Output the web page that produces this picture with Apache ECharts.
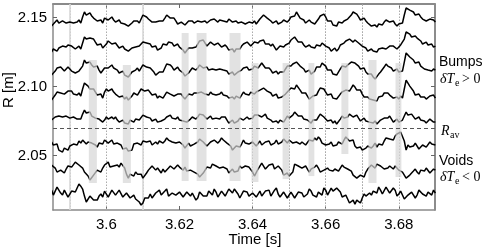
<!DOCTYPE html>
<html>
<head>
<meta charset="utf-8">
<script src="https://cdn.jsdelivr.net/npm/echarts@6/dist/echarts.min.js"></script>
<style>html,body{margin:0;padding:0;background:#fff}#c{width:482px;height:249px}</style>
</head>
<body>
<div id="c"></div>
<script>
// sample times [s] (whole-ms samples and half-ms samples)
const time = [3.585,3.586,3.587,3.588,3.589,3.590,3.591,3.592,3.593,3.594,3.595,3.596,3.597,3.598,3.599,
3.600,3.601,3.602,3.603,3.604,3.605,3.606,3.607,3.608,3.609,3.610,3.611,3.612,3.613,3.614,3.615,3.616,3.617,3.618,3.619,
3.620,3.621,3.622,3.623,3.624,3.625,3.626,3.627,3.628,3.629,3.630,3.631,3.632,3.633,3.634,3.635,3.636,3.637,3.638,3.639,
3.640,3.641,3.642,3.643,3.644,3.645,3.646,3.647,3.648,3.649,3.650,3.651,3.652,3.653,3.654,3.655,3.656,3.657,3.658,3.659,
3.660,3.661,3.662,3.663,3.664,3.665,3.666,3.667,3.668,3.669,3.670,3.671,3.672,3.673,3.674,3.675,3.676,3.677,3.678,3.679,
3.680,3.681,3.682,3.683,3.684,3.685,3.686,3.687,3.688,3.689,3.690];
const timeMid = [3.5855,3.5865,3.5875,3.5885,3.5895,3.5905,3.5915,3.5925,3.5935,3.5945,3.5955,3.5965,3.5975,3.5985,3.5995,
3.6005,3.6015,3.6025,3.6035,3.6045,3.6055,3.6065,3.6075,3.6085,3.6095,3.6105,3.6115,3.6125,3.6135,3.6145,3.6155,3.6165,3.6175,3.6185,3.6195,
3.6205,3.6215,3.6225,3.6235,3.6245,3.6255,3.6265,3.6275,3.6285,3.6295,3.6305,3.6315,3.6325,3.6335,3.6345,3.6355,3.6365,3.6375,3.6385,3.6395,
3.6405,3.6415,3.6425,3.6435,3.6445,3.6455,3.6465,3.6475,3.6485,3.6495,3.6505,3.6515,3.6525,3.6535,3.6545,3.6555,3.6565,3.6575,3.6585,3.6595,
3.6605,3.6615,3.6625,3.6635,3.6645,3.6655,3.6665,3.6675,3.6685,3.6695,3.6705,3.6715,3.6725,3.6735,3.6745,3.6755,3.6765,3.6775,3.6785,3.6795,
3.6805,3.6815,3.6825,3.6835,3.6845,3.6855,3.6865,3.6875,3.6885,3.6895];

// radial positions of the 8 traces [m], whole-ms samples
const r1 = [2.1438,2.1467,2.1460,2.1475,2.1460,2.1467,2.1460,2.1467,2.1460,2.1540,2.1525,2.1511,2.1496,2.1482,2.1460,2.1504,2.1489,2.1482,2.1475,2.1460,2.1453,2.1438,2.1460,2.1467,2.1460,2.1518,2.1504,2.1489,2.1467,2.1453,2.1475,2.1496,2.1518,2.1489,2.1475,2.1460,
2.1460,2.1453,2.1467,2.1460,2.1475,2.1467,2.1475,2.1467,2.1482,2.1475,2.1482,2.1475,2.1467,2.1482,2.1475,2.1460,2.1467,2.1453,2.1467,2.1460,2.1453,2.1489,2.1518,2.1496,2.1475,2.1467,2.1453,2.1467,2.1475,2.1482,2.1511,2.1540,2.1496,2.1482,2.1467,
2.1467,2.1453,2.1489,2.1518,2.1504,2.1475,2.1446,2.1438,2.1467,2.1475,2.1489,2.1518,2.1533,2.1504,2.1489,2.1475,2.1460,2.1446,2.1431,2.1446,2.1467,2.1475,2.1467,2.1453,2.1453,2.1460,2.1569,2.1554,2.1540,2.1525,2.1504,2.1489,2.1482,2.1475,2.1467];
const r2 = [2.1250,2.1264,2.1279,2.1293,2.1286,2.1293,2.1279,2.1286,2.1272,2.1359,2.1351,2.1337,2.1322,2.1301,2.1279,2.1308,2.1322,2.1315,2.1301,2.1286,2.1272,2.1257,2.1279,2.1286,2.1293,2.1322,2.1315,2.1308,2.1286,2.1264,2.1279,2.1301,2.1322,2.1315,2.1301,2.1286,
2.1264,2.1250,2.1279,2.1293,2.1308,2.1330,2.1315,2.1301,2.1308,2.1301,2.1308,2.1293,2.1286,2.1264,2.1250,2.1272,2.1293,2.1301,2.1308,2.1301,2.1315,2.1330,2.1337,2.1308,2.1293,2.1286,2.1272,2.1286,2.1301,2.1315,2.1337,2.1351,2.1322,2.1301,2.1286,
2.1286,2.1279,2.1301,2.1315,2.1293,2.1279,2.1264,2.1257,2.1301,2.1315,2.1322,2.1337,2.1337,2.1315,2.1293,2.1279,2.1264,2.1257,2.1250,2.1264,2.1279,2.1286,2.1279,2.1286,2.1279,2.1293,2.1395,2.1380,2.1366,2.1351,2.1330,2.1315,2.1301,2.1308,2.1293];
const r3 = [2.1083,2.1112,2.1127,2.1134,2.1119,2.1127,2.1112,2.1105,2.1098,2.1192,2.1170,2.1156,2.1141,2.1119,2.1098,2.1148,2.1141,2.1134,2.1119,2.1105,2.1083,2.1069,2.1105,2.1119,2.1112,2.1156,2.1141,2.1134,2.1105,2.1083,2.1105,2.1134,2.1156,2.1141,2.1127,2.1119,
2.1098,2.1076,2.1105,2.1127,2.1134,2.1148,2.1134,2.1119,2.1127,2.1119,2.1127,2.1119,2.1112,2.1098,2.1083,2.1105,2.1119,2.1127,2.1119,2.1127,2.1134,2.1148,2.1156,2.1134,2.1119,2.1105,2.1090,2.1105,2.1127,2.1141,2.1163,2.1177,2.1148,2.1127,2.1112,
2.1090,2.1112,2.1141,2.1170,2.1148,2.1119,2.1090,2.1083,2.1127,2.1141,2.1156,2.1177,2.1170,2.1148,2.1127,2.1105,2.1083,2.1069,2.1061,2.1105,2.1141,2.1148,2.1134,2.1119,2.1105,2.1112,2.1243,2.1214,2.1192,2.1170,2.1148,2.1127,2.1119,2.1112,2.1119];
const r4 = [2.0902,2.0938,2.0953,2.0960,2.0953,2.0960,2.0945,2.0938,2.0931,2.1025,2.1003,2.0982,2.0960,2.0938,2.0916,2.0982,2.0974,2.0960,2.0945,2.0931,2.0909,2.0902,2.0931,2.0945,2.0938,2.0989,2.0974,2.0960,2.0938,2.0916,2.0924,2.0938,2.0953,2.0945,2.0938,2.0931,
2.0924,2.0916,2.0938,2.0953,2.0953,2.0960,2.0945,2.0938,2.0945,2.0938,2.0945,2.0938,2.0931,2.0924,2.0909,2.0924,2.0938,2.0945,2.0938,2.0953,2.0960,2.0974,2.0989,2.0967,2.0953,2.0938,2.0916,2.0924,2.0945,2.0960,2.0982,2.1011,2.0974,2.0945,2.0931,
2.0909,2.0931,2.0967,2.0982,2.0960,2.0938,2.0916,2.0909,2.0945,2.0953,2.0967,2.0989,2.0996,2.0967,2.0945,2.0924,2.0909,2.0902,2.0895,2.0931,2.0953,2.0953,2.0938,2.0924,2.0909,2.0916,2.1047,2.1003,2.0967,2.0938,2.0924,2.0924,2.0916,2.0924,2.0916];
const r5 = [2.0757,2.0779,2.0786,2.0779,2.0786,2.0771,2.0779,2.0764,2.0764,2.0829,2.0808,2.0786,2.0771,2.0764,2.0742,2.0779,2.0771,2.0764,2.0757,2.0750,2.0735,2.0728,2.0750,2.0764,2.0757,2.0793,2.0779,2.0771,2.0757,2.0742,2.0750,2.0764,2.0779,2.0771,2.0764,2.0757,
2.0750,2.0742,2.0764,2.0771,2.0779,2.0786,2.0779,2.0771,2.0764,2.0771,2.0764,2.0771,2.0757,2.0742,2.0735,2.0750,2.0764,2.0771,2.0764,2.0771,2.0779,2.0786,2.0793,2.0771,2.0757,2.0750,2.0735,2.0750,2.0764,2.0771,2.0793,2.0808,2.0786,2.0764,2.0757,
2.0735,2.0757,2.0779,2.0793,2.0771,2.0757,2.0735,2.0728,2.0764,2.0771,2.0779,2.0793,2.0793,2.0771,2.0757,2.0750,2.0742,2.0735,2.0728,2.0757,2.0771,2.0771,2.0764,2.0750,2.0742,2.0757,2.0815,2.0800,2.0786,2.0771,2.0757,2.0750,2.0742,2.0750,2.0742];
const r6 = [2.0598,2.0583,2.0539,2.0525,2.0554,2.0569,2.0583,2.0576,2.0590,2.0612,2.0598,2.0590,2.0576,2.0590,2.0583,2.0605,2.0598,2.0583,2.0590,2.0576,2.0554,2.0532,2.0539,2.0576,2.0590,2.0605,2.0598,2.0605,2.0590,2.0583,2.0598,2.0605,2.0612,2.0598,2.0590,2.0598,
2.0576,2.0561,2.0569,2.0583,2.0598,2.0612,2.0590,2.0583,2.0590,2.0598,2.0605,2.0612,2.0590,2.0569,2.0554,2.0561,2.0583,2.0590,2.0583,2.0598,2.0569,2.0605,2.0583,2.0598,2.0576,2.0590,2.0583,2.0598,2.0605,2.0612,2.0590,2.0598,2.0583,2.0598,2.0590,
2.0598,2.0627,2.0634,2.0590,2.0576,2.0583,2.0569,2.0576,2.0590,2.0612,2.0634,2.0605,2.0569,2.0554,2.0539,2.0554,2.0561,2.0569,2.0561,2.0590,2.0605,2.0619,2.0627,2.0641,2.0656,2.0663,2.0539,2.0561,2.0569,2.0576,2.0561,2.0576,2.0569,2.0583,2.0576];
const r7 = [2.0431,2.0409,2.0380,2.0387,2.0402,2.0416,2.0424,2.0438,2.0445,2.0380,2.0351,2.0336,2.0358,2.0394,2.0409,2.0438,2.0416,2.0424,2.0431,2.0445,2.0409,2.0336,2.0351,2.0380,2.0365,2.0336,2.0373,2.0402,2.0416,2.0409,2.0373,2.0380,2.0409,2.0424,2.0416,2.0416,
2.0394,2.0387,2.0394,2.0380,2.0365,2.0358,2.0373,2.0424,2.0438,2.0424,2.0409,2.0416,2.0402,2.0387,2.0380,2.0387,2.0409,2.0424,2.0416,2.0380,2.0365,2.0416,2.0438,2.0409,2.0431,2.0402,2.0424,2.0394,2.0365,2.0351,2.0380,2.0445,2.0424,2.0409,2.0402,
2.0402,2.0416,2.0409,2.0387,2.0380,2.0394,2.0387,2.0402,2.0409,2.0416,2.0402,2.0387,2.0351,2.0336,2.0351,2.0380,2.0402,2.0424,2.0438,2.0424,2.0402,2.0409,2.0416,2.0424,2.0394,2.0380,2.0336,2.0358,2.0387,2.0380,2.0394,2.0387,2.0402,2.0387,2.0394];
const r8 = [2.0249,2.0221,2.0264,2.0213,2.0242,2.0206,2.0249,2.0264,2.0278,2.0206,2.0177,2.0192,2.0185,2.0206,2.0199,2.0228,2.0206,2.0235,2.0213,2.0242,2.0206,2.0221,2.0199,2.0185,2.0163,2.0156,2.0185,2.0221,2.0199,2.0228,2.0213,2.0242,2.0206,2.0228,2.0213,2.0235,
2.0199,2.0235,2.0206,2.0221,2.0192,2.0228,2.0206,2.0242,2.0213,2.0235,2.0199,2.0228,2.0213,2.0249,2.0257,2.0221,2.0199,2.0235,2.0206,2.0228,2.0199,2.0242,2.0213,2.0235,2.0206,2.0249,2.0221,2.0199,2.0228,2.0206,2.0235,2.0192,2.0228,2.0199,2.0221,
2.0242,2.0206,2.0235,2.0213,2.0249,2.0221,2.0242,2.0264,2.0235,2.0213,2.0185,2.0163,2.0148,2.0177,2.0192,2.0206,2.0228,2.0242,2.0228,2.0249,2.0235,2.0257,2.0228,2.0249,2.0221,2.0228,2.0177,2.0206,2.0228,2.0213,2.0242,2.0221,2.0235,2.0213,2.0228];

// same traces, half-ms samples [m]
const m1 = [2.1438,2.1482,2.1460,2.1482,2.1446,2.1475,2.1453,2.1482,2.1504,2.1518,2.1533,2.1496,2.1475,2.1482,2.1496,2.1482,2.1504,2.1467,2.1482,2.1446,
2.1453,2.1438,2.1475,2.1475,2.1489,2.1525,2.1489,2.1467,2.1467,2.1475,2.1475,2.1518,2.1496,2.1496,2.1453,2.1467,2.1446,2.1475,2.1475,2.1453,
2.1482,2.1467,2.1460,2.1482,2.1489,2.1467,2.1489,2.1467,2.1489,2.1467,2.1475,2.1453,2.1475,2.1467,2.1453,2.1475,2.1467,2.1489,2.1511,2.1496,
2.1460,2.1475,2.1453,2.1482,2.1467,2.1504,2.1511,2.1533,2.1496,2.1460,2.1482,2.1453,2.1460,2.1511,2.1525,2.1475,2.1475,2.1438,2.1467,2.1460,
2.1489,2.1489,2.1540,2.1525,2.1482,2.1496,2.1460,2.1438,2.1446,2.1453,2.1446,2.1482,2.1467,2.1475,2.1438,2.1467,2.1518,2.1576,2.1554,2.1518,
2.1525,2.1489,2.1475,2.1489,2.1482];
const m2 = [2.1272,2.1257,2.1293,2.1279,2.1301,2.1293,2.1272,2.1293,2.1315,2.1344,2.1351,2.1344,2.1301,2.1308,2.1286,2.1330,2.1308,2.1315,2.1279,2.1293,
2.1272,2.1257,2.1293,2.1286,2.1293,2.1330,2.1322,2.1286,2.1293,2.1264,2.1308,2.1301,2.1330,2.1293,2.1308,2.1286,2.1243,2.1279,2.1279,2.1286,
2.1330,2.1337,2.1293,2.1322,2.1301,2.1315,2.1286,2.1301,2.1264,2.1272,2.1272,2.1272,2.1308,2.1322,2.1293,2.1322,2.1315,2.1344,2.1308,2.1308,
2.1308,2.1264,2.1293,2.1286,2.1293,2.1337,2.1359,2.1322,2.1322,2.1286,2.1301,2.1272,2.1301,2.1293,2.1322,2.1293,2.1257,2.1279,2.1272,2.1293,
2.1330,2.1344,2.1322,2.1337,2.1301,2.1301,2.1257,2.1272,2.1243,2.1272,2.1279,2.1272,2.1293,2.1293,2.1272,2.1301,2.1344,2.1402,2.1359,2.1366,
2.1351,2.1308,2.1322,2.1301,2.1286];
const m3 = [2.1083,2.1134,2.1141,2.1112,2.1141,2.1112,2.1098,2.1112,2.1148,2.1170,2.1177,2.1141,2.1148,2.1098,2.1134,2.1134,2.1156,2.1134,2.1098,2.1112,
2.1069,2.1076,2.1119,2.1134,2.1119,2.1163,2.1134,2.1134,2.1083,2.1105,2.1105,2.1163,2.1156,2.1119,2.1141,2.1105,2.1076,2.1098,2.1134,2.1119,
2.1156,2.1134,2.1141,2.1112,2.1134,2.1112,2.1141,2.1127,2.1090,2.1105,2.1090,2.1098,2.1134,2.1141,2.1112,2.1148,2.1134,2.1170,2.1134,2.1134,
2.1098,2.1112,2.1105,2.1105,2.1148,2.1148,2.1156,2.1170,2.1156,2.1105,2.1119,2.1098,2.1141,2.1141,2.1170,2.1119,2.1119,2.1098,2.1090,2.1148,
2.1141,2.1156,2.1185,2.1177,2.1127,2.1134,2.1090,2.1090,2.1054,2.1090,2.1112,2.1163,2.1148,2.1112,2.1127,2.1105,2.1177,2.1235,2.1221,2.1170,
2.1177,2.1134,2.1141,2.1105,2.1127];
const m4 = [2.0909,2.0960,2.0953,2.0945,2.0967,2.0967,2.0931,2.0953,2.0982,2.1032,2.0982,2.0982,2.0938,2.0945,2.0960,2.0967,2.0982,2.0945,2.0924,2.0931,
2.0924,2.0902,2.0953,2.0938,2.0982,2.0967,2.0974,2.0938,2.0945,2.0931,2.0916,2.0960,2.0945,2.0931,2.0945,2.0945,2.0909,2.0945,2.0938,2.0967,
2.0945,2.0960,2.0931,2.0960,2.0953,2.0931,2.0960,2.0931,2.0916,2.0924,2.0931,2.0916,2.0960,2.0938,2.0960,2.0945,2.0974,2.0967,2.0996,2.0967,
2.0931,2.0945,2.0916,2.0924,2.0960,2.0989,2.0982,2.1011,2.0953,2.0953,2.0909,2.0931,2.0938,2.0989,2.0982,2.0938,2.0945,2.0909,2.0916,2.0960,
2.0974,2.0967,2.1011,2.0974,2.0974,2.0924,2.0924,2.0895,2.0916,2.0924,2.0931,2.0967,2.0938,2.0916,2.0924,2.0931,2.0982,2.1040,2.0996,2.0938,
2.0945,2.0916,2.0909,2.0931,2.0938];
const m5 = [2.0757,2.0793,2.0800,2.0771,2.0793,2.0771,2.0786,2.0750,2.0800,2.0808,2.0815,2.0786,2.0757,2.0771,2.0757,2.0764,2.0779,2.0779,2.0742,2.0757,
2.0728,2.0757,2.0742,2.0771,2.0764,2.0800,2.0786,2.0750,2.0764,2.0742,2.0742,2.0779,2.0793,2.0757,2.0779,2.0750,2.0764,2.0742,2.0779,2.0764,
2.0800,2.0793,2.0764,2.0786,2.0764,2.0757,2.0779,2.0779,2.0735,2.0757,2.0735,2.0771,2.0757,2.0779,2.0757,2.0793,2.0793,2.0779,2.0800,2.0757,
2.0742,2.0750,2.0757,2.0742,2.0786,2.0779,2.0815,2.0786,2.0786,2.0750,2.0764,2.0757,2.0757,2.0800,2.0779,2.0750,2.0757,2.0750,2.0735,2.0786,
2.0771,2.0800,2.0779,2.0793,2.0750,2.0771,2.0757,2.0728,2.0750,2.0735,2.0750,2.0779,2.0786,2.0742,2.0764,2.0742,2.0786,2.0793,2.0800,2.0764,
2.0779,2.0764,2.0735,2.0764,2.0742];
const m6 = [2.0576,2.0583,2.0525,2.0554,2.0539,2.0583,2.0569,2.0605,2.0612,2.0583,2.0612,2.0576,2.0561,2.0598,2.0612,2.0590,2.0612,2.0583,2.0598,2.0547,
2.0554,2.0525,2.0583,2.0590,2.0576,2.0619,2.0598,2.0576,2.0598,2.0605,2.0590,2.0627,2.0598,2.0612,2.0576,2.0598,2.0554,2.0590,2.0583,2.0569,
2.0619,2.0598,2.0569,2.0598,2.0612,2.0590,2.0627,2.0598,2.0598,2.0539,2.0569,2.0561,2.0612,2.0598,2.0569,2.0598,2.0583,2.0576,2.0598,2.0605,
2.0569,2.0612,2.0583,2.0619,2.0590,2.0612,2.0583,2.0612,2.0598,2.0576,2.0612,2.0605,2.0612,2.0619,2.0598,2.0569,2.0598,2.0569,2.0598,2.0583,
2.0634,2.0605,2.0612,2.0554,2.0561,2.0525,2.0569,2.0554,2.0590,2.0583,2.0576,2.0627,2.0619,2.0612,2.0656,2.0670,2.0605,2.0576,2.0561,2.0590,
2.0547,2.0576,2.0561,2.0598,2.0576];
const m7 = [2.0438,2.0380,2.0394,2.0373,2.0424,2.0416,2.0452,2.0431,2.0409,2.0380,2.0322,2.0358,2.0394,2.0380,2.0431,2.0452,2.0409,2.0438,2.0416,2.0445,
2.0365,2.0365,2.0351,2.0365,2.0365,2.0336,2.0394,2.0424,2.0394,2.0402,2.0402,2.0380,2.0424,2.0402,2.0431,2.0402,2.0416,2.0380,2.0380,2.0387,
2.0344,2.0373,2.0416,2.0409,2.0438,2.0438,2.0402,2.0416,2.0373,2.0402,2.0380,2.0424,2.0402,2.0416,2.0416,2.0351,2.0402,2.0445,2.0402,2.0431,
2.0438,2.0402,2.0416,2.0358,2.0373,2.0358,2.0438,2.0424,2.0409,2.0424,2.0380,2.0416,2.0431,2.0380,2.0394,2.0409,2.0380,2.0402,2.0387,2.0431,
2.0402,2.0416,2.0358,2.0336,2.0358,2.0344,2.0402,2.0431,2.0409,2.0438,2.0438,2.0394,2.0424,2.0402,2.0424,2.0380,2.0358,2.0336,2.0365,2.0402,
2.0365,2.0402,2.0409,2.0373,2.0402];
const m8 = [2.0213,2.0271,2.0228,2.0249,2.0199,2.0242,2.0235,2.0293,2.0257,2.0163,2.0206,2.0177,2.0177,2.0221,2.0242,2.0199,2.0249,2.0213,2.0249,2.0199,
2.0228,2.0192,2.0213,2.0192,2.0141,2.0192,2.0192,2.0192,2.0228,2.0249,2.0206,2.0257,2.0206,2.0242,2.0199,2.0235,2.0199,2.0242,2.0228,2.0177,
2.0235,2.0206,2.0206,2.0242,2.0257,2.0199,2.0242,2.0206,2.0257,2.0228,2.0257,2.0192,2.0242,2.0235,2.0192,2.0235,2.0206,2.0206,2.0242,2.0249,
2.0206,2.0264,2.0199,2.0235,2.0192,2.0235,2.0192,2.0235,2.0228,2.0185,2.0257,2.0213,2.0199,2.0242,2.0264,2.0213,2.0264,2.0242,2.0271,2.0199,
2.0213,2.0156,2.0177,2.0177,2.0156,2.0221,2.0206,2.0213,2.0249,2.0271,2.0221,2.0271,2.0228,2.0264,2.0206,2.0242,2.0185,2.0213,2.0235,2.0192,
2.0249,2.0221,2.0206,2.0242,2.0249];

// average radius [m]
const rAv = 2.068;
// sawtooth crash times (dotted) and other reference lines (solid grey) [s]
const crashTimes = [3.5933, 3.6001, 3.6091, 3.6422, 3.6474, 3.6515, 3.6580, 3.6630, 3.6670, 3.6750, 3.6816];
const greyTimes = [3.5873, 3.6149];
// shaded intervals: [t0, t1, Rlow, Rhigh]
const bands = [
  [3.5952, 3.5974, 2.0300, 2.1192],
  [3.6045, 3.6067, 2.0300, 2.1156],
  [3.6206, 3.6225, 2.0315, 2.1388],
  [3.6247, 3.6274, 2.0315, 2.1388],
  [3.6337, 3.6367, 2.0315, 2.1388],
  [3.6397, 3.6416, 2.0308, 2.1170],
  [3.6482, 3.6501, 2.0329, 2.1170],
  [3.6553, 3.6569, 2.0351, 2.1170],
  [3.6643, 3.6662, 2.0511, 2.1170],
  [3.6717, 3.6739, 2.0300, 2.1192],
  [3.6791, 3.6807, 2.0344, 2.1170]
];
const xTicks = [3.6, 3.62, 3.64, 3.66, 3.68];
const yTicks = [2.05, 2.10, 2.15];

const traces = [[r1, m1], [r2, m2], [r3, m3], [r4, m4], [r5, m5], [r6, m6], [r7, m7], [r8, m8]];
const X0 = 3.5854, X1 = 3.6899, Y0 = 2.0105, Y1 = 2.1598;
const axisCol = '#8a8a8a';
const labelFont = {color: '#000', fontSize: 15, fontFamily: 'Liberation Sans, Arial, sans-serif'};

function build(r, m) {
  const d = [];
  for (let i = 0; i < r.length; i++) {
    d.push([time[i], r[i]]);
    if (i < m.length) d.push([timeMid[i], m[i]]);
  }
  return d;
}

const series = traces.map(p => ({
  type: 'line', data: build(p[0], p[1]), showSymbol: false, symbol: 'none',
  lineStyle: {color: '#000', width: 1.5}, z: 3, silent: true, animation: false
}));
series.push({
  type: 'line', data: [], z: 1, silent: true, animation: false,
  markLine: {
    z: 1, silent: true, symbol: 'none', animation: false, label: {show: false},
    data: crashTimes.map(t => ({xAxis: t, lineStyle: {type: [1.5, 1.5], color: '#aaa', width: 1}}))
      .concat(greyTimes.map(t => ({xAxis: t, lineStyle: {type: 'solid', color: '#d8d8d8', width: 1.6}})))
  }
});
series.push({
  type: 'line', data: [], z: 6, silent: true, animation: false,
  markArea: {
    z: 10, silent: true, animation: false, label: {show: false},
    itemStyle: {color: 'rgba(214,214,214,0.7)'},
    data: bands.map(b => [{xAxis: b[0], yAxis: b[2]}, {xAxis: b[1], yAxis: b[3]}])
  }
});
series.push({
  type: 'line', data: [], z: 7, silent: true, animation: false,
  markLine: {
    z: 11, silent: true, symbol: 'none', animation: false, label: {show: false},
    data: [{yAxis: rAv, lineStyle: {type: [4, 3], color: '#555', width: 1.2}}]
  }
});

const txt = (text, x, y, font, extra) => Object.assign({type: 'text', x: x, y: y, silent: true,
  style: {text: text, font: font, fill: '#000', verticalAlign: 'middle', textVerticalAlign: 'middle'}}, extra || {});
const sans = '14px "Liberation Sans", Arial, sans-serif';
const mathI = 'italic 14px "Liberation Serif", serif';
const mathS = '10px "Liberation Serif", serif';
const mathR = '14px "Liberation Serif", serif';

const chart = echarts.init(document.getElementById('c'), null, {renderer: 'canvas'});
chart.setOption({
  animation: false,
  backgroundColor: '#fff',
  grid: {left: 53, top: 4, width: 382, height: 206, containLabel: false},
  xAxis: [
    {type: 'value', min: X0, max: X1, position: 'bottom',
     axisLine: {show: true, lineStyle: {color: axisCol, width: 1.5}},
     axisTick: {show: true, inside: true, length: 4, customValues: xTicks, lineStyle: {color: '#666'}},
     axisLabel: Object.assign({show: true, margin: 7, customValues: xTicks, formatter: v => String(+v.toFixed(2))}, labelFont),
     splitLine: {show: false}},
    {type: 'value', min: X0, max: X1, position: 'top',
     axisLine: {show: true, lineStyle: {color: axisCol, width: 1.8}},
     axisTick: {show: true, inside: true, length: 4, customValues: xTicks, lineStyle: {color: '#666'}},
     axisLabel: {show: false}, splitLine: {show: false}}
  ],
  yAxis: [
    {type: 'value', min: Y0, max: Y1, position: 'left',
     axisLine: {show: true, lineStyle: {color: axisCol, width: 1.5}},
     axisTick: {show: true, inside: true, length: 4, customValues: yTicks, lineStyle: {color: '#666'}},
     axisLabel: Object.assign({show: true, margin: 6, customValues: yTicks, formatter: v => v.toFixed(2)}, labelFont),
     splitLine: {show: false}},
    {type: 'value', min: Y0, max: Y1, position: 'right',
     axisLine: {show: true, lineStyle: {color: '#666', width: 1.5}},
     axisTick: {show: true, inside: true, length: 4, customValues: yTicks, lineStyle: {color: '#666'}},
     axisLabel: {show: false}, splitLine: {show: false}}
  ],
  series: series,
  graphic: [
    {type: 'text', x: 255, y: 240, silent: true, style: {text: 'Time [s]', font: '15px "Liberation Sans", Arial, sans-serif', fill: '#000', align: 'center', verticalAlign: 'middle', textAlign: 'center', textVerticalAlign: 'middle'}},
    {type: 'text', x: 9, y: 90, rotation: Math.PI / 2, silent: true, style: {text: 'R [m]', font: '15px "Liberation Sans", Arial, sans-serif', fill: '#000', align: 'center', verticalAlign: 'middle', textAlign: 'center', textVerticalAlign: 'middle'}},
    txt('Bumps', 439, 62, sans),
    txt('δT', 440, 79, mathI),
    txt('e', 455, 83, mathS),
    txt('> 0', 462, 79, mathR),
    txt('R', 441, 131, mathI),
    txt('av', 450, 135, mathS),
    txt('Voids', 439, 161, sans),
    txt('δT', 440, 177, mathI),
    txt('e', 455, 181, mathS),
    txt('< 0', 462, 177, mathR)
  ]
});
</script>
</body>
</html>
